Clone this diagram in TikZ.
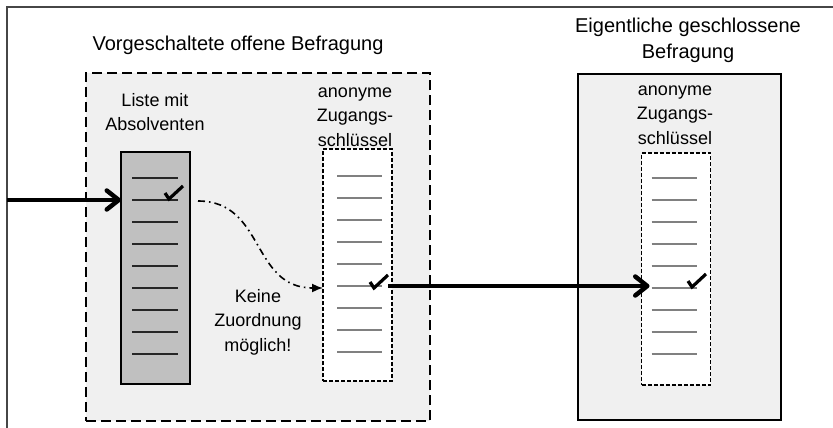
\documentclass[tikz,border=0pt]{standalone}
\usepackage{fontspec}
\setmainfont{Liberation Sans}
\usetikzlibrary{arrows.meta,calc}
\definecolor{panel}{RGB}{240,240,240}
\definecolor{listgray}{RGB}{192,192,192}
\definecolor{framegray}{RGB}{70,70,70}
\definecolor{rulegray}{RGB}{128,128,128}
\begin{document}
\begin{tikzpicture}[x=1pt,y=-1pt,
  titletext/.style={font=\fontsize{20}{26}\selectfont, align=center, inner sep=0pt},
  labeltext/.style={font=\fontsize{18}{24.5}\selectfont, align=center, inner sep=0pt},
  openstage/.style={draw=black, fill=panel, line width=2.3pt, dash pattern=on 10pt off 5pt,
    minimum width=344pt, minimum height=348pt, inner sep=0pt, outer sep=0pt},
  closedstage/.style={draw=black, fill=panel, line width=2.3pt,
    minimum width=203pt, minimum height=346pt, inner sep=0pt, outer sep=0pt},
  namelist/.style={draw=black, fill=listgray, line width=1.6pt,
    minimum width=69pt, minimum height=232pt, inner sep=0pt, outer sep=0pt},
  keylist/.style={draw=black, fill=white, line width=1.6pt, dash pattern=on 4pt off 2pt,
    minimum width=69pt, minimum height=232pt, inner sep=0pt, outer sep=0pt},
  nameentry/.style={draw=black!85, line width=1.1pt},
  keyentry/.style={draw=rulegray, line width=1.1pt},
  flow/.style={line width=4.5pt, -{Straight Barb[length=12pt,width=19pt,round]}},
  nolink/.style={line width=1.6pt, dash pattern=on 7pt off 4pt on 1.6pt off 4pt,
    -{Latex[length=11pt,width=9pt]}},
  tickmark/.pic={\draw[line width=3.2pt] (-4,-6) -- (0,0) -- (14,-13);}
]
\useasboundingbox (0,0) rectangle (833,428);

% outer frame (only top and left edges are visible)
\draw[framegray, line width=2.5pt] (7,428) -- (7,7) -- (833,7);

% the two stages
\node[openstage] (open) at (258,247) {};
\node[closedstage] (closed) at (679.5,247) {};
\node[titletext] (opentitle) at (238,45) {Vorgeschaltete offene Befragung};
\node[titletext] (closedtitle) at (688,40) {Eigentliche geschlossene\\Befragung};

% list of graduates
\node[namelist] (liste) at (155.5,268) {};
\node[labeltext] (listelabel) at (155,112) {Liste mit\\Absolventen};
\foreach \i in {0,...,8}
  \draw[nameentry] ($(liste.north west)+(11,26+22*\i)$) -- ++(46,0);

% anonymous access keys, open stage
\node[keylist] (keysA) at (357.5,265) {};
\node[labeltext] (keysAlabel) at (355,117) {anonyme\\Zugangs-\\schlüssel};
\foreach \i in {0,...,8}
  \draw[keyentry] ($(keysA.north west)+(14,27+22*\i)$) -- ++(45,0);

% anonymous access keys, closed stage
\node[keylist] (keysB) at (676,269) {};
\node[labeltext] (keysBlabel) at (675,115) {anonyme\\Zugangs-\\schlüssel};
\foreach \i in {0,...,8}
  \draw[keyentry] ($(keysB.north west)+(10,25+22*\i)$) -- ++(45,0);

% ticks
\pic at (169,199) {tickmark};
\pic at (374,288) {tickmark};
\pic at (692,287) {tickmark};

\node[labeltext] (nomatch) at (258,322) {Keine\\Zuordnung\\möglich!};

% connectors
\coordinate (rowA) at (0,200);
\coordinate (rowB) at (0,286);
\coordinate (in) at (7,200);
\draw[flow] (in) -- (liste.west |- rowA);
\coordinate (d0) at ($(liste.east |- rowA)+(8,1)$);
\coordinate (d1) at ($(keysA.west |- rowB)+(0,2)$);
\draw[nolink] (d0) .. controls +(67,0) and +(-72,0) .. (d1);
\coordinate (o0) at ($(keysA.east |- rowB)+(-4,0)$);
\coordinate (o1) at ($(keysB.west |- rowB)+(8,0)$);
\draw[flow] (o0) -- (o1);
\end{tikzpicture}
\end{document}
